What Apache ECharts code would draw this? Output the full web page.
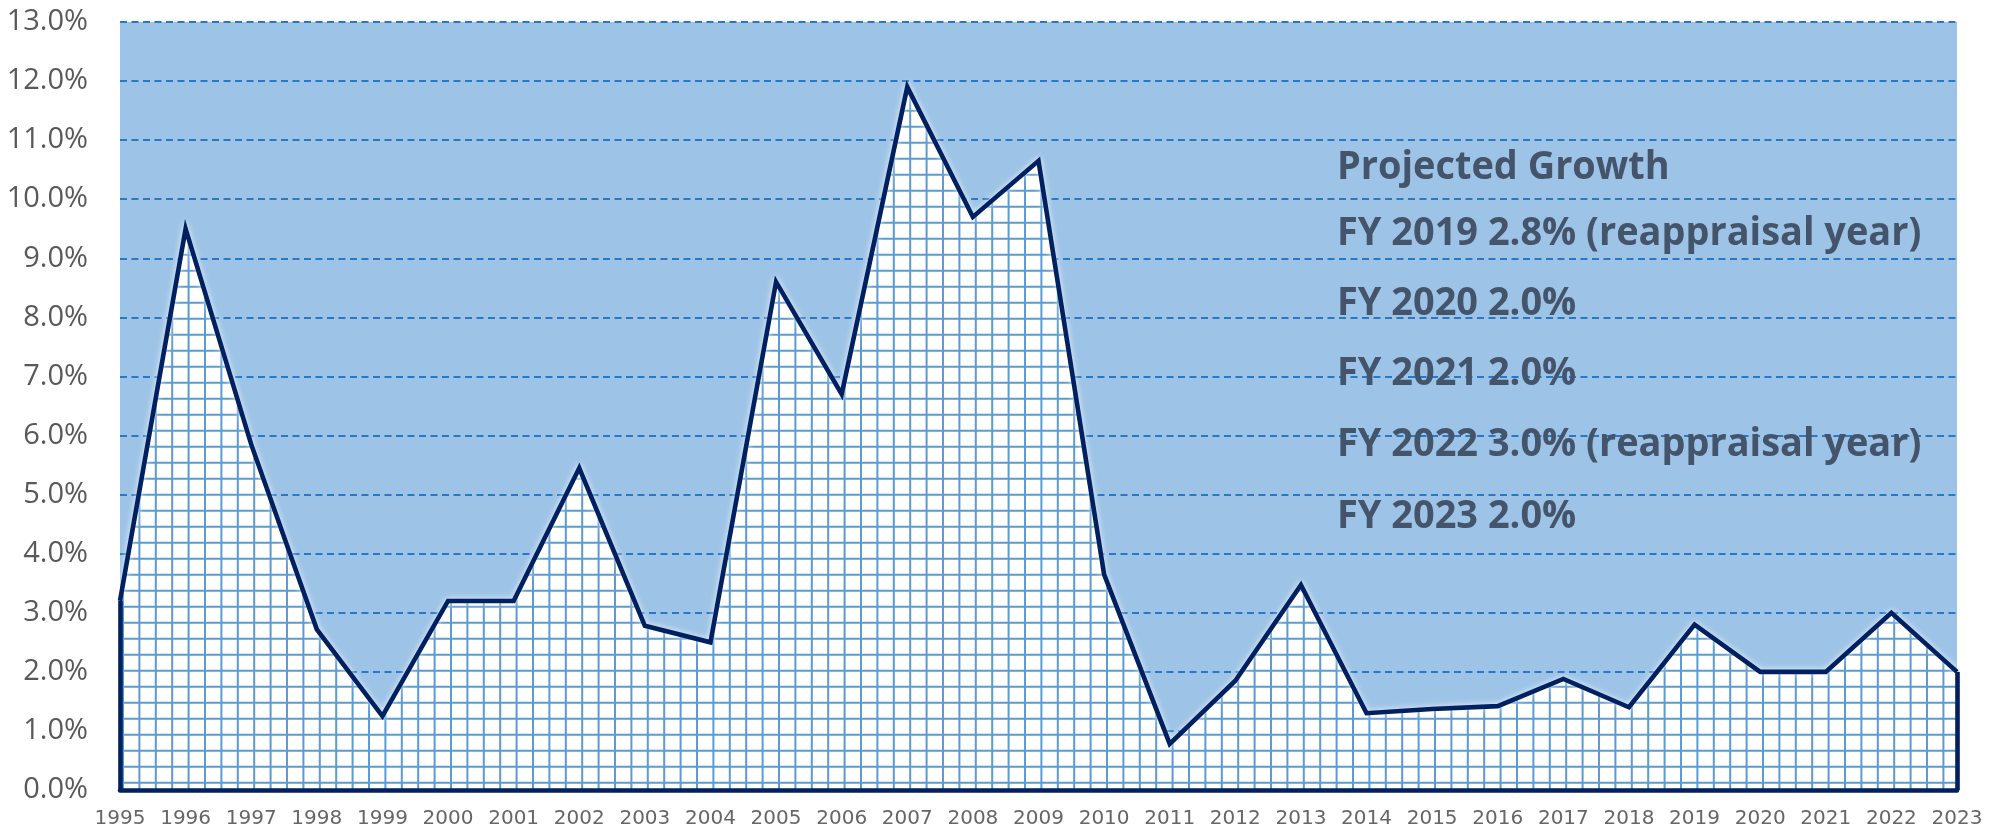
<!DOCTYPE html>
<html>
<head>
<meta charset="utf-8">
<title>Growth by Fiscal Year</title>
<script src="https://cdn.jsdelivr.net/npm/echarts@6/dist/echarts.min.js"></script>
<style>
  html, body { margin: 0; padding: 0; background: #ffffff; }
  #chart { width: 2003px; height: 831px; }
</style>
</head>
<body>
<div id="chart"></div>
<script>
// Fiscal years on the category axis
const years = ['1995', '1996', '1997', '1998', '1999', '2000', '2001', '2002', '2003', '2004',
  '2005', '2006', '2007', '2008', '2009', '2010', '2011', '2012', '2013', '2014',
  '2015', '2016', '2017', '2018', '2019', '2020', '2021', '2022', '2023'];

// Annual growth, percent
const growth = [3.2, 9.5, 5.85, 2.72, 1.25, 3.2, 3.2, 5.45, 2.78, 2.5,
  8.6, 6.7, 11.9, 9.7, 10.65, 3.65, 0.78, 1.85, 3.47, 1.3,
  1.37, 1.42, 1.88, 1.4, 2.8, 2.0, 2.0, 3.0, 2.0];

// Value axis range, percent
const yMin = 0;
const yMax = 13;
const yStep = 1;

// Projection notes shown inside the plot
const notes = [
  'Projected Growth',
  'FY 2019 2.8% (reappraisal year)',
  'FY 2020 2.0%',
  'FY 2021 2.0%',
  'FY 2022 3.0% (reappraisal year)',
  'FY 2023 2.0%'
];

// Graph-paper fill for the area under the line
function makeGridPattern() {
  const cellW = 16.4, cellH = 16, n = 5;
  const offX = 8.2, offY = 14.7;
  const c = document.createElement('canvas');
  c.width = Math.round(cellW * n);
  c.height = Math.round(cellH * n);
  const g = c.getContext('2d');
  g.fillStyle = '#ffffff';
  g.fillRect(0, 0, c.width, c.height);
  g.strokeStyle = '#5B9BD5';
  g.lineWidth = 2;
  g.beginPath();
  for (let i = 0; i < n; i++) {
    const x = offX + i * cellW;
    g.moveTo(x, 0); g.lineTo(x, c.height);
    const y = offY + i * cellH;
    g.moveTo(0, y); g.lineTo(c.width, y);
  }
  g.stroke();
  return c;
}

const navy = '#002060';
const chart = echarts.init(document.getElementById('chart'), null, { renderer: 'canvas' });

const noteY = [168, 234, 304, 374, 445, 517];

const option = {
  animation: false,
  grid: {
    left: 120, right: 46, top: 22, bottom: 41,
    show: true, backgroundColor: '#9DC3E6', borderWidth: 0
  },
  xAxis: {
    type: 'category',
    data: years,
    boundaryGap: false,
    z: 10,
    axisLine: { show: true, lineStyle: { color: navy, width: 4.5 } },
    axisTick: { show: false },
    axisLabel: {
      interval: 0, color: '#666666', fontFamily: 'DejaVu Sans', fontSize: 20, margin: 19
    },
    splitLine: { show: false }
  },
  yAxis: {
    type: 'value',
    min: yMin, max: yMax, interval: yStep,
    axisLine: { show: false },
    axisTick: { show: false },
    axisLabel: {
      formatter: v => v.toFixed(1) + '%',
      color: '#595959', fontFamily: 'Open Sans', fontSize: 29, margin: 32
    },
    splitLine: { show: true, lineStyle: { color: '#2878C8', width: 1.9, type: [7, 4.5] } }
  },
  series: [{
    type: 'line',
    data: growth,
    symbol: 'none',
    lineStyle: {
      color: navy, width: 4.6, join: 'miter',
      shadowColor: 'rgba(255,255,255,0.85)', shadowBlur: 6
    },
    areaStyle: {
      color: { image: makeGridPattern(), repeat: 'repeat' },
      opacity: 1
    },
    markLine: {
      silent: true,
      symbol: ['none', 'none'],
      label: { show: false },
      lineStyle: { color: navy, width: 4.6, type: 'solid' },
      data: [
        [{ coord: [years[0], 0] }, { coord: [years[0], growth[0]] }],
        [{ coord: [years[years.length - 1], 0] }, { coord: [years[years.length - 1], growth[growth.length - 1]] }]
      ]
    }
  }],
  graphic: notes.map((t, i) => ({
    type: 'text',
    x: 1337,
    y: noteY[i],
    z: 20,
    silent: true,
    scaleX: 0.96,
    style: {
      text: t,
      fill: '#44546A',
      fontFamily: 'Open Sans',
      fontWeight: 'bold',
      fontSize: 39.5,
      verticalAlign: 'middle',
      align: 'left'
    }
  }))
};

chart.setOption(option);
</script>
</body>
</html>
